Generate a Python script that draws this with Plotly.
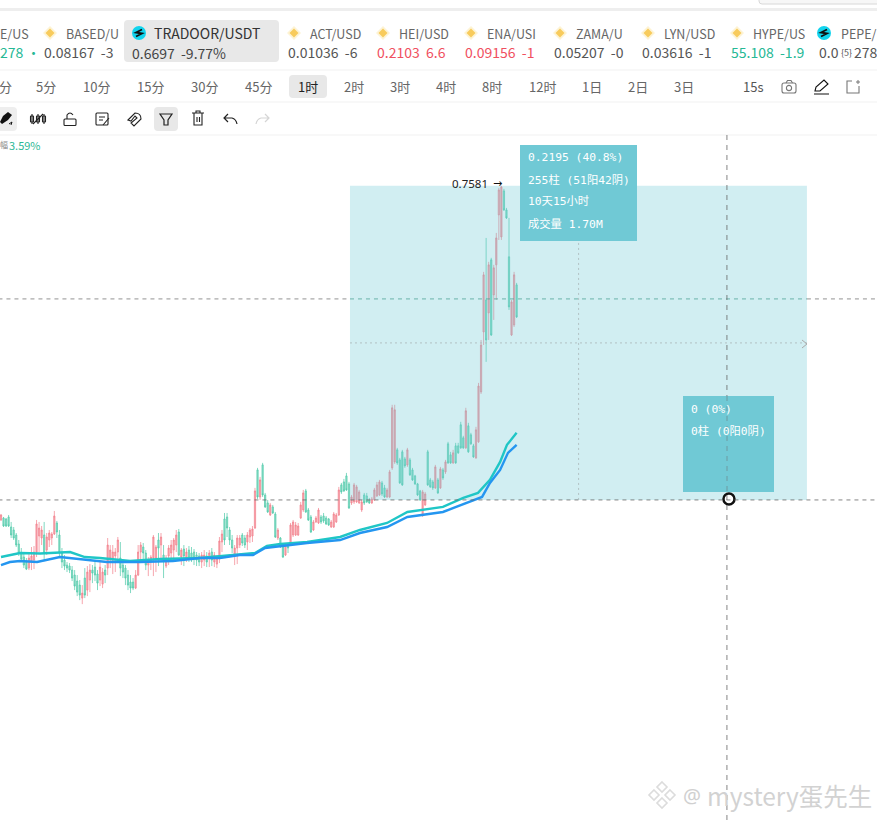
import re
import plotly.graph_objects as go

# Candles, prices in 1e-4 USDT. R = rising (red), G = falling (green)
candle_dir = ("RGGGGGGGGGGRRRRRRGRRRRGGGGGGGGGGRGRRGGGRRGRRRRRGGGGGGRRRGGRRRRGRGRRRRRGRGRGGGGGRRGRGRRRRGGGGRRRGGRRRRG"
              "RGGGRGGRGGRGRRRRRRGGGRRRGGGGRRRRGGGGRRRRRGGGRRRRGGRRRRGGGGRGGGGGRRGGGRGRGRGGRGGGGRGGGRRRRGRGRRRRGGGRRG")
candle_high = [5288,5267,5260,5281,5232,5197,5155,5106,5050,5015,4980,5015,5057,5064,5246,5232,5204,5232,5155,5176,5162,5309,5239,5176,5050,5001,4952,4945,4924,4896,4861,4826,4791,4910,4924,4938,4931,4966,4896,4952,4910,4931,5120,5071,5071,5050,5127,5092,4966,4931,4896,4861,4840,4896,5071,5092,5085,5036,4987,5001,5141,5071,5155,5155,5071,5001,5071,5106,5120,5176,5183,5050,5071,5050,5064,5057,5043,5022,5015,5022,5036,5022,5036,5050,5022,5001,5127,5176,5295,5295,5197,5141,5071,5141,5141,5155,5141,5162,5190,5204,5470,5610,5547,5645,5435,5386,5365,5351,5302,5190,5127,5071,5085,5085,5225,5246,5232,5225,5372,5456,5463,5330,5281,5246,5274,5330,5281,5295,5274,5260,5246,5302,5295,5477,5505,5533,5575,5512,5421,5505,5491,5456,5386,5435,5435,5400,5407,5470,5512,5526,5519,5491,5470,5596,6051,6051,5750,5680,5736,5687,5750,5680,5610,5561,5505,5456,5456,5442,5736,5540,5526,5631,5540,5617,5610,5666,5792,5722,5736,5785,5785,5932,5834,6030,5925,5855,5778,5897,6204,6504,6980,7217,7050,7078,7029,7252,7567,7581,7560,7427,7357,6784,6980,6903]
candle_top = [5281,5260,5253,5267,5197,5176,5141,5078,5015,4987,4952,4980,4994,5022,5218,5190,5176,5141,5127,5155,5148,5274,5225,5141,5015,4966,4931,4924,4896,4861,4819,4791,4735,4840,4882,4896,4896,4917,4868,4917,4882,4896,5071,5036,5022,5022,5106,4980,4931,4910,4861,4812,4812,4861,5022,5071,5057,5015,4966,4987,5127,5057,5106,5127,5001,4980,5050,5071,5106,5141,5162,5036,5043,5022,5036,5015,5022,5001,4994,5001,5001,4994,5015,5022,5001,4980,5099,5148,5253,5267,5176,5106,5050,5120,5120,5141,5120,5141,5176,5183,5449,5596,5526,5631,5421,5365,5351,5337,5288,5176,5120,5057,5071,5071,5211,5232,5211,5204,5351,5435,5449,5316,5267,5232,5260,5316,5267,5274,5260,5253,5232,5288,5281,5456,5491,5512,5554,5498,5407,5491,5477,5442,5372,5421,5414,5386,5393,5456,5491,5512,5505,5470,5456,5582,6030,6016,5736,5666,5722,5673,5736,5666,5596,5554,5498,5449,5442,5428,5722,5526,5512,5617,5526,5603,5596,5652,5778,5701,5715,5764,5764,5911,5820,6009,5904,5841,5764,5876,6182,6469,6959,6784,7029,7064,7008,7217,7553,7574,7546,7413,7085,6770,6959,6889]
candle_bottom = [5246,5204,5204,5204,5141,5120,5071,5015,4973,4931,4903,4910,4952,4966,5022,5134,5120,5015,5036,5106,5120,5148,5162,5015,4952,4924,4910,4896,4840,4784,4742,4721,4700,4721,4756,4826,4875,4861,4805,4826,4798,4861,4910,4980,4966,4994,5022,4910,4882,4840,4791,4770,4770,4770,4861,5022,5015,4931,4931,4952,4980,4980,5050,5071,4966,4924,4994,5015,5036,5071,5001,4987,4994,4980,4980,4966,4980,4966,4952,4952,4966,4952,4980,4966,4952,4938,4980,5092,5106,5190,5106,5050,4994,5050,5071,5085,5071,5092,5127,5134,5190,5407,5407,5421,5337,5302,5281,5295,5127,5120,5057,4987,5001,5050,5071,5141,5141,5141,5260,5316,5302,5246,5162,5176,5232,5225,5232,5239,5218,5211,5197,5197,5232,5281,5442,5449,5456,5330,5365,5372,5372,5365,5316,5365,5372,5365,5365,5386,5414,5421,5428,5407,5407,5407,5610,5652,5645,5505,5491,5624,5631,5561,5526,5498,5421,5386,5281,5351,5491,5477,5470,5470,5435,5470,5540,5582,5645,5645,5645,5645,5715,5750,5750,5750,5722,5778,5687,5680,5792,6141,6560,6504,6693,6539,6819,7029,7378,7224,7413,7357,6735,6539,6609,6665]
candle_low = [5239,5197,5197,5197,5120,5106,5057,4994,4952,4910,4896,4896,4896,4903,4987,5022,5071,4966,5001,5057,5071,5141,5120,4994,4910,4896,4882,4875,4819,4756,4714,4686,4658,4700,4714,4742,4805,4819,4756,4784,4770,4805,4861,4910,4868,4882,4966,4854,4840,4791,4756,4735,4756,4763,4854,4966,4952,4896,4854,4896,4854,4882,4924,4966,4840,4910,4931,4966,4980,5022,4994,4931,4924,4952,4952,4952,4931,4924,4924,4910,4924,4917,4917,4924,4917,4910,4945,5022,5071,5127,5071,5015,4931,4938,5050,5064,5050,5036,5085,5092,5183,5393,5386,5407,5330,5295,5274,5288,5120,5106,5050,4980,4994,5015,5064,5127,5134,5134,5253,5302,5295,5239,5155,5169,5225,5218,5218,5225,5211,5204,5190,5190,5225,5274,5428,5442,5449,5323,5351,5358,5365,5358,5302,5351,5365,5358,5358,5379,5407,5414,5414,5400,5400,5400,5596,5638,5631,5498,5484,5610,5617,5554,5519,5491,5414,5379,5267,5344,5484,5470,5456,5463,5428,5463,5526,5568,5638,5638,5638,5638,5708,5743,5743,5743,5715,5771,5680,5673,5785,6127,6469,6351,6504,6532,6644,6784,7203,7203,7406,7350,6714,6532,6595,6658]

# Moving averages (sampled along the lines)
ma_fast_bar = [0,7.5,15.4,23.2,27.2,33,39,50.8,62.6,78.3,88,93,100,104.7,110,120.5,133.5,141.3,152,160,174,182,187.8,192.5,196.5,199.2,203]
ma_fast = [4987,5015,5012,5022,5022,4987,4980,4959,4973,4980,4994,5001,5015,5064,5078,5092,5127,5176,5225,5302,5337,5400,5435,5526,5652,5771,5855]
ma_slow_bar = [0,3.5,7.5,14.2,23.2,36.2,41.7,54.7,67.7,78.3,86.2,94,99.2,104,110,120.5,133.5,141.3,152,160,174,182,189.4,192.5,196.5,199.6,203]
ma_slow = [4931,4952,4959,4952,4987,4959,4952,4952,4959,4980,4980,5001,5001,5050,5064,5085,5106,5155,5197,5267,5302,5358,5407,5505,5596,5715,5771]

# Price-range tool
range_low, range_high = 0.5386, 0.7581
range_first_bar, range_last_bar = 137.4, 317.3
range_mid_bar = 227.4
other_level = 0.6791
cross_bar = 285.8
cursor_bar, cursor_price = 286.6, 0.5393

info_lines = ["0.2195 (40.8%)", "255柱 (51阳42阴)", "10天15小时", "成交量 1.70M"]
info2_lines = ["0 (0%)", "0柱 (0阳0阴)"]
timeframes = ["分","5分","10分","15分","30分","45分","1时","2时","3时","4时","8时","12时","1日","2日","3日"]
tf_pos = [5,46,96,150,204,258,308,354,400,446,492,542,592,638,684]
tickers = [("BASED/U","0.08167  -3","#555",50,66,44),("ACT/USD","0.01036  -6","#555",294,310,288),
           ("HEI/USD","0.2103  6.6","#f0505f",383,399,377),("ENA/USI","0.09156  -1","#f0505f",471,487,465),
           ("ZAMA/U","0.05207  -0","#555",560,576,554),("LYN/USD","0.03616  -1","#555",648,664,642),
           ("HYPE/US","55.108  -1.9","#26b895",737,753,731)]

W, H = 877, 820
CJK = "Noto Sans CJK SC"
MONO = "DejaVu Sans Mono, Noto Sans CJK SC"
DASH = "4px,4px"
scale = 1e4
closes = [t if d == "R" else b for d, t, b in zip(candle_dir, candle_top, candle_bottom)]
opens = [b if d == "R" else t for d, t, b in zip(candle_dir, candle_top, candle_bottom)]
bars = list(range(len(candle_high)))

fig = go.Figure()
fig.add_trace(go.Candlestick(
    x=bars, open=[v/scale for v in opens], high=[v/scale for v in candle_high],
    low=[v/scale for v in candle_low], close=[v/scale for v in closes], whiskerwidth=0,
    increasing=dict(line=dict(color="#f27f8b", width=0.7), fillcolor="#f7a9b1"),
    decreasing=dict(line=dict(color="#4cc9a8", width=0.7), fillcolor="#93dfcb"),
    showlegend=False, hoverinfo="skip"))
fig.add_trace(go.Scatter(
    x=[range_first_bar, range_last_bar, range_last_bar, range_first_bar, range_first_bar],
    y=[range_low, range_low, range_high, range_high, range_low],
    fill="toself", fillcolor="rgba(111,203,214,0.32)", mode="none", showlegend=False, hoverinfo="skip"))
fig.add_trace(go.Scatter(x=ma_fast_bar, y=[v/scale for v in ma_fast], mode="lines",
                         line=dict(color="#1fc6c6", width=2.4), showlegend=False, hoverinfo="skip"))
fig.add_trace(go.Scatter(x=ma_slow_bar, y=[v/scale for v in ma_slow], mode="lines",
                         line=dict(color="#2496f0", width=2.4), showlegend=False, hoverinfo="skip"))

num = re.compile(r"(-?\d+\.?\d*)[ ,]+(-?\d+\.?\d*)")
def conv(path):
    return num.sub(lambda m: f"{float(m[1])/W:.5f},{1-float(m[2])/H:.5f}", path)

shapes, annos = [], []
def pth(path, fill=None, color=None, width=1.2, layer="above"):
    s = dict(type="path", xref="paper", yref="paper", path=conv(path), layer=layer,
             line=dict(color=color or "rgba(0,0,0,0)", width=width))
    if fill: s["fillcolor"] = fill
    shapes.append(s)
def rrect(x0, y0, x1, y1, r, fill=None, color=None, width=1.2):
    pth(f"M {x0+r} {y0} L {x1-r} {y0} Q {x1} {y0} {x1} {y0+r} L {x1} {y1-r} Q {x1} {y1} {x1-r} {y1} "
        f"L {x0+r} {y1} Q {x0} {y1} {x0} {y1-r} L {x0} {y0+r} Q {x0} {y0} {x0+r} {y0} Z", fill, color, width)
def circ(cx, cy, r, fill=None, color=None, width=1.2):
    shapes.append(dict(type="circle", xref="paper", yref="paper", x0=(cx-r)/W, x1=(cx+r)/W, y0=1-(cy+r)/H, y1=1-(cy-r)/H,
                       fillcolor=fill, line=dict(color=color or "rgba(0,0,0,0)", width=width)))
def text(x, y, s, size=13, color="#555", family=CJK, anchor="left"):
    annos.append(dict(xref="paper", yref="paper", x=x/W, y=1-y/H, text=s, showarrow=False, xanchor=anchor, yanchor="middle",
                      font=dict(size=size, color=color, family=family), borderpad=0, borderwidth=0))
def line_px(x0, y0, x1, y1, color="#888", width=1, dash=DASH):
    shapes.append(dict(type="line", xref="paper", yref="paper", x0=x0/W, x1=x1/W, y0=1-y0/H, y1=1-y1/H,
                       line=dict(color=color, width=width, dash=dash)))
def data_line(x0, y0, x1, y1, color, dash=DASH, width=0.8):
    shapes.append(dict(type="line", x0=x0, x1=x1, y0=y0, y1=y1, line=dict(color=color, width=width, dash=dash)))
def diamond(cx, cy):
    pth(f"M {cx} {cy-7} L {cx+7} {cy} L {cx} {cy+7} L {cx-7} {cy} Z", "#fdf3d4")
    pth(f"M {cx} {cy-4.5} L {cx+4.5} {cy} L {cx} {cy+4.5} L {cx-4.5} {cy} Z", "#f8cb5c")
def coin(cx, cy):
    circ(cx, cy, 7, "#12d4ee")
    pth(f"M {cx+3} {cy-3.5} L {cx-3} {cy-0.5} L {cx+3} {cy+0.5} L {cx-3} {cy+3.5}", None, "#111", 1.8)

# Window chrome
pth("M 0 8 L 877 8 L 877 11 L 0 11 Z", "#eeeeee")
rrect(759, -6, 885, 4, 3, "#f7f7f7", "#d8d8d8", 1)
for y in (70, 102, 135):
    line_px(0, y, 877, y, "#f1f1f1", 1, "solid")

# Ticker row
text(0, 33, "E/US", 12.5, "#666")
text(0, 52, "278 ·", 14, "#26b895")
for name, price, col, ix, nx, px in tickers:
    diamond(ix, 33)
    text(nx, 33, name, 12.5, "#666")
    text(px, 52, price, 14, col)
rrect(124, 20, 279, 62, 4, "#e8e8e8")
coin(139, 33)
text(154, 33, "TRADOOR/USDT", 14, "#333")
text(132, 53, "0.6697  -9.77%", 14, "#444")
coin(824, 33)
text(841, 33, "PEPE/", 12.5, "#666")
text(819, 52, "0.0", 14, "#555")
text(846, 52, "{5}", 9, "#555", anchor="center")
text(854, 52, "278", 14, "#555")

# Timeframes
rrect(289, 75, 327, 98, 4, "#e8e8e8")
for lab, xp in zip(timeframes, tf_pos):
    text(xp, 87, lab, 13, "#222" if lab == "1时" else "#666", anchor="center")
text(753, 87, "15s", 13, "#555", anchor="center")
rrect(782, 83, 796, 93, 2, None, "#777", 1.1)
pth("M 786 83 L 787.5 80.5 L 791 80.5 L 792.5 83", None, "#777", 1.1)
circ(789, 88, 2.6, None, "#777", 1.1)
pth("M 815 91 L 816 87 L 824 80 L 828 84 L 820 91 Z M 814 94 L 829 94", None, "#111", 1.1)
pth("M 852 81 L 847 81 L 847 93 L 859 93 L 859 86", None, "#777", 1.1)
pth("M 858 80 L 858 84 M 856 82 L 860 82", None, "#777", 1)

# Drawing toolbar
rrect(-4, 107, 17, 131, 4, "#eeeeee")
pth("M 0 122 L 3 116 L 8 112 L 12 115 L 8 120 L 2 124 Z", "#111")
pth("M 9 124 L 12 122 L 11 125", None, "#111", 1)
for xo in (32, 38, 44):
    pth(f"M {xo} 114 L {xo} 124", None, "#222", 1.1)
    rrect(xo-1.5, 116, xo+1.5, 122, 0.5, None, "#222", 1.1)
pth("M 33 124 L 43 114", None, "#222", 1.1)
rrect(64, 119, 76, 125.5, 1, None, "#222", 1.1)
pth("M 67 119 L 67 115 Q 70 111 73 115", None, "#222", 1.1)
rrect(96, 113, 108, 125, 1, None, "#222", 1.1)
pth("M 99 117 L 105 117 M 99 120 L 103 120 M 103 125 L 109 118", None, "#222", 1.1)
pth("M 128 120 L 135 113 Q 141 113 141 119 L 134 126 L 131 123 L 137 118 L 135 116 L 131 121 Z", None, "#222", 1.1)
rrect(154, 107, 178, 131, 4, "#e8e8e8")
pth("M 160 114 L 172 114 L 168 120 L 168 125 L 164 125 L 164 120 Z", None, "#222", 1.2)
pth("M 192 113 L 204 113 M 196 113 L 196 111 L 200 111 L 200 113 M 194 113 L 194 125 L 202 125 L 202 113 M 197 117 L 197 122 M 199.5 117 L 199.5 122", None, "#222", 1.1)
pth("M 228 114 L 224 118 L 228 122 M 224 118 L 232 118 Q 236 119 237 124", None, "#222", 1.2)
pth("M 265 114 L 269 118 L 265 122 M 269 118 L 261 118 Q 257 119 256 124", None, "#d5d5d5", 1.2)

text(0, 145, "幅", 8, "#888")
text(9, 145, "3.59%", 11, "#2cb896")

# Chart guide lines
mid_price = (range_low + range_high) / 2
data_line(-1, other_level, range_first_bar, other_level, "#777")
data_line(range_first_bar, other_level, range_last_bar, other_level, "#4fa598")
data_line(range_last_bar, other_level, 345, other_level, "#777")
data_line(-1, range_low, 345, range_low, "#666")
data_line(range_first_bar, mid_price, range_last_bar, mid_price, "#aab5b8", "2px,3px")
data_line(range_mid_bar, range_low, range_mid_bar, range_high - 0.0385, "#aab5b8", "2px,3px")
pth("M 802 340 L 807 344 L 802 348", None, "#aaa", 1)
shapes.append(dict(type="line", x0=cross_bar, x1=cross_bar, yref="paper", y0=0, y1=1-135/H,
                   line=dict(color="#666", width=0.8, dash="5px,5px")))

# Range tool labels
shapes.append(dict(type="rect", xref="paper", yref="paper", x0=520/W, x1=637/W, y0=1-241/H, y1=1-145/H, fillcolor="#70c9d5", line=dict(width=0)))
shapes.append(dict(type="rect", xref="paper", yref="paper", x0=683/W, x1=774/W, y0=1-492/H, y1=1-396/H, fillcolor="#70c9d5", line=dict(width=0)))
line_px(727, 396, 727, 492, "#6d8f96", 0.8, "5px,5px")
for yy, s in zip((158, 180, 201, 224), info_lines):
    text(528, yy, s, 11.3, "#ffffff", MONO)
for yy, s in zip((409, 431), info2_lines):
    text(691, yy, s, 11.3, "#ffffff", MONO)
text(452, 184, f"{range_high:.4f}", 11.5, "#222", "Noto Sans")
text(493, 184, "→", 11, "#111", "DejaVu Sans")

# Watermark
for dx, dy in ((0, -8), (-8, 0), (8, 0), (0, 8)):
    pth(f"M {662+dx} {795+dy-5} L {662+dx+5} {795+dy} L {662+dx} {795+dy+5} L {662+dx-5} {795+dy} Z", None, "#dcdcdc", 1.6)
text(683, 795, "@", 20, "#d0d0d0", "Noto Sans")
text(707, 795, "mystery蛋先生", 24.5, "#d2d2d2", "Noto Sans CJK SC")

# Cursor handle
fig.add_trace(go.Scatter(x=[cursor_bar], y=[cursor_price], mode="markers",
                         marker=dict(size=11, color="white", line=dict(color="#111", width=2.5)),
                         showlegend=False, hoverinfo="skip"))

fig.update_layout(
    width=W, height=H, margin=dict(l=0, r=0, t=0, b=0), autosize=False,
    paper_bgcolor="white", plot_bgcolor="white",
    xaxis=dict(visible=False, range=[-0.39, 344.88], rangeslider=dict(visible=False), fixedrange=True),
    yaxis=dict(visible=False, range=[0.31492, 0.888], fixedrange=True),
    shapes=shapes, annotations=annos, font=dict(family=CJK),
)
fig.write_html("out.html", config=dict(displayModeBar=False),
               post_script="document.body.style.margin='0';document.body.style.overflow='hidden';")
